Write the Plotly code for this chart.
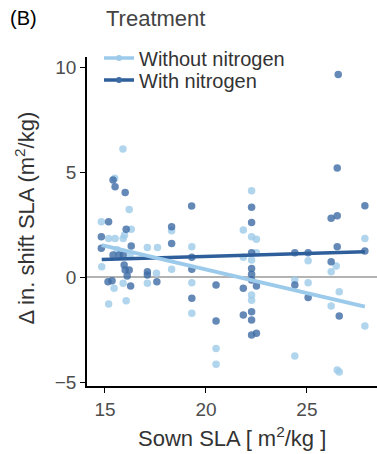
import plotly.graph_objects as go

# ---- data ----
without_x = [15.89, 15.48, 16.2, 14.82, 15.18, 15.5, 15.9, 16.3, 17.1, 17.6, 14.84, 15.45, 15.9, 16.05,
             15.18, 17.1, 17.55, 18.3, 18.3, 19.3, 19.3, 19.3, 20.5, 20.5, 21.85, 22.26, 22.26, 22.5,
             22.5, 22.26, 22.26, 22.26, 24.4, 24.4, 25.06, 25.06, 26.2, 26.2, 26.45, 26.6, 26.5, 26.6,
             27.87, 27.87, 16.24, 15.97, 15.6, 21.85]
without_y = [6.10, 4.70, 3.22, 2.63, 1.84, 1.84, 1.84, 2.27, 1.41, 1.41, 0.49, -0.54, -0.30, -1.13,
             -1.29, -0.30, 0.18, 2.20, 0.37, 1.44, -0.27, -1.73, -3.40, -4.16, 2.24, 4.11, 1.92, 1.80,
             1.16, 0.81, -0.86, -1.10, -0.14, -3.76, 0.78, -0.27, 0.25, -1.38, 0.52, -0.70, -4.43, -4.52,
             1.84, -2.33, 1.05, 2.00, 1.30, 0.94]

with_x = [26.55, 26.5, 15.4, 15.5, 16.0, 15.18, 14.82, 14.82, 16.05, 16.3, 15.4, 15.9, 15.7, 15.95,
          16.1, 16.2, 16.0, 15.15, 15.35, 16.27, 17.1, 17.1, 17.57, 18.3, 18.3, 19.29, 19.3, 19.3,
          19.3, 20.5, 20.5, 21.85, 21.85, 22.26, 22.26, 22.26, 22.26, 22.26, 22.26, 22.5, 22.26,
          22.26, 22.26, 22.5, 24.4, 24.4, 25.06, 25.06, 26.2, 26.5, 26.2, 26.5, 26.6, 27.87, 27.87]
with_y = [9.65, 5.19, 4.62, 4.30, 4.03, 2.63, 1.92, 1.37, 2.27, 1.48, 1.05, 1.05, 1.05, 0.57,
          0.05, 0.33, 0.33, -0.22, -0.18, -0.43, 0.25, 0.10, -0.22, 2.40, 1.60, 3.38, 0.94, 0.37,
          -1.01, -0.38, -2.10, -0.54, -1.81, 3.32, 2.60, 1.16, 0.41, 0.13, -0.14, -0.43, -1.65,
          -2.05, -2.76, -2.68, 1.16, -0.38, 1.16, -0.97, 2.80, 2.92, 0.73, 1.44, -1.86, 3.40, 1.24]

fit_x = [14.84, 27.87]
fit_without = [1.52, -1.41]
fit_with = [0.84, 1.20]

x_ticks = [15, 20, 25]
y_ticks = [-5, 0, 5, 10]
y_tick_text = ["\u22125", "0", "5", "10"]

LIGHT = "#9ecae9"
DARK = "#3d6ba5"
LIGHT_LINE = "#9ccaeb"
DARK_LINE = "#2f5f9b"
FONT = "Liberation Sans, Arial, sans-serif"

W, H = 377, 454
ML, MR, MT, MB = 87, 0, 57, 68
plot_w = W - ML - MR
plot_h = H - MT - MB


def px_to_paper(px, py):
    return (px - ML) / plot_w, (H - MB - py) / plot_h


fig = go.Figure()

fig.add_trace(go.Scatter(x=without_x, y=without_y, mode="markers", showlegend=False,
                         marker=dict(color=LIGHT, size=7.5, opacity=0.8, line=dict(width=0)),
                         hoverinfo="skip"))
fig.add_trace(go.Scatter(x=with_x, y=with_y, mode="markers", showlegend=False,
                         marker=dict(color=DARK, size=7.5, opacity=0.8, line=dict(width=0)),
                         hoverinfo="skip"))
fig.add_trace(go.Scatter(x=fit_x, y=fit_with, mode="lines", showlegend=False,
                         line=dict(color=DARK_LINE, width=3.5)))
fig.add_trace(go.Scatter(x=fit_x, y=fit_without, mode="lines", showlegend=False,
                         line=dict(color=LIGHT_LINE, width=4)))

# legend entries
fig.add_trace(go.Scatter(x=[None], y=[None], mode="lines+markers", name="Without nitrogen",
                         legend="legend",
                         line=dict(color=LIGHT_LINE, width=3.5), marker=dict(color=LIGHT, size=6)))
fig.add_trace(go.Scatter(x=[None], y=[None], mode="lines+markers", name="With nitrogen",
                         legend="legend2",
                         line=dict(color=DARK_LINE, width=3.5), marker=dict(color=DARK, size=6)))

fig.add_hline(y=0, line=dict(color="#9a9a9a", width=1.5), layer="below")

lx, _ = px_to_paper(99, 0)
bx, by = px_to_paper(8, 18)
tx, ty = px_to_paper(104, 18)
xt_x, xt_y = px_to_paper((ML + W - MR) / 2, 437)
yt_x, yt_y = px_to_paper(24, (MT + H - MB) / 2 - 3)

leg_common = dict(x=lx, xanchor="left", yanchor="middle", yref="container",
                  bgcolor="rgba(0,0,0,0)", font=dict(size=20, color="#333333"),
                  itemwidth=30, tracegroupgap=0)

fig.update_layout(
    width=W, height=H,
    margin=dict(l=ML, r=MR, t=MT, b=MB, autoexpand=False),
    paper_bgcolor="white", plot_bgcolor="white",
    font=dict(family=FONT, color="#333333"),
    showlegend=True,
    legend=dict(y=1 - 58 / H, **leg_common),
    legend2=dict(y=1 - 80 / H, **leg_common),
    xaxis=dict(range=[14.11, 28.47], tickvals=x_ticks, ticks="outside", ticklen=5,
               tickcolor="black", showline=True, linecolor="black", linewidth=1.5,
               showgrid=False, zeroline=False, tickfont=dict(size=19, color="#4d4d4d"),
               automargin=False),
    yaxis=dict(range=[-5.19, 10.48], tickvals=y_ticks, ticktext=y_tick_text, ticks="outside",
               ticklen=5, tickcolor="black", showline=True, linecolor="black", linewidth=1.5,
               showgrid=False, zeroline=False, tickfont=dict(size=19, color="#4d4d4d"),
               automargin=False),
    annotations=[
        dict(text="(B)", x=bx, y=by, xref="paper", yref="paper", xanchor="left",
             yanchor="middle", showarrow=False, font=dict(size=20, color="black")),
        dict(text="Treatment", x=tx, y=ty, xref="paper", yref="paper", xanchor="left",
             yanchor="middle", showarrow=False, font=dict(size=22, color="#444444")),
        dict(text="Sown SLA [ m<sup>2</sup>/kg ]", x=xt_x, y=xt_y, xref="paper", yref="paper",
             xanchor="center", yanchor="middle", showarrow=False,
             font=dict(size=22, color="#333333")),
        dict(text="\u0394 in. shift SLA (m<sup>2</sup>/kg)", x=yt_x, y=yt_y, xref="paper",
             yref="paper", xanchor="center", yanchor="middle", textangle=-90, showarrow=False,
             font=dict(size=22, color="#333333")),
    ],
)

fig.write_html("out.html", config={"displayModeBar": False},
               post_script="document.body.style.margin='0';")
